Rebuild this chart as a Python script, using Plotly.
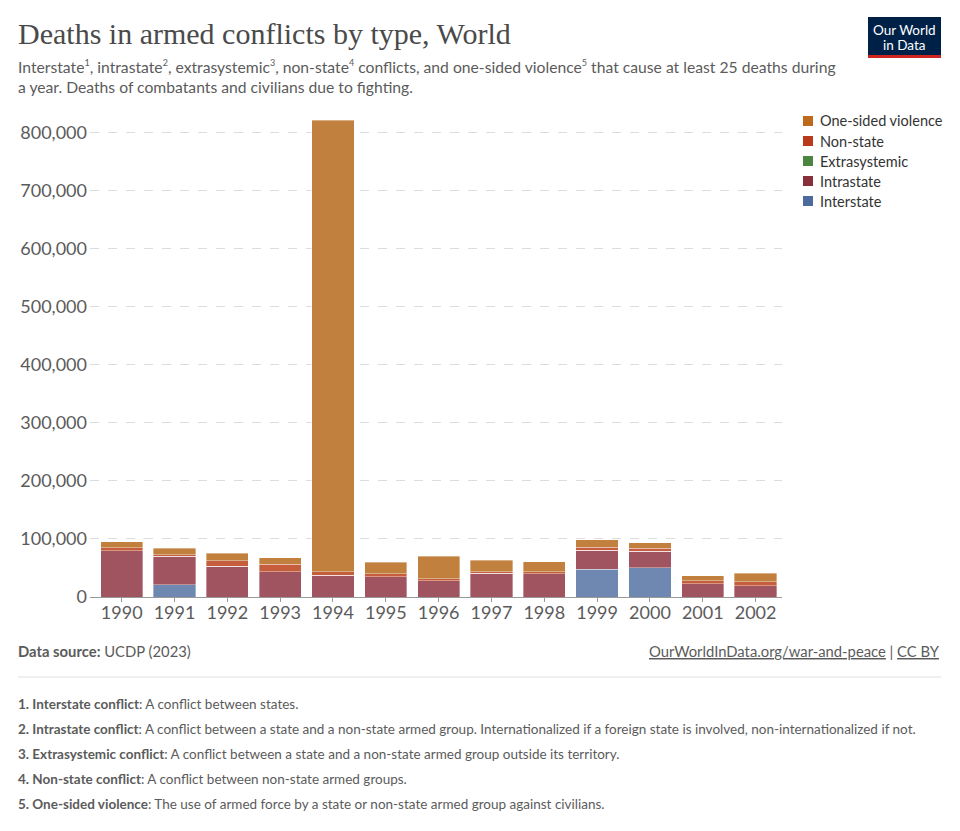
import plotly.graph_objects as go

years = ["1990", "1991", "1992", "1993", "1994", "1995", "1996",
         "1997", "1998", "1999", "2000", "2001", "2002"]
interstate = [0, 20800, 0, 0, 0, 0, 0, 0, 0, 48000, 50300, 0, 0]
intrastate = [79800, 49200, 52600, 43900, 37600, 35300, 27700,
              41000, 39900, 32300, 28300, 22500, 19700]
extrasystemic = [0, 0, 0, 0, 0, 0, 0, 0, 0, 0, 0, 0, 0]
non_state = [5200, 2800, 9800, 12200, 5800, 4600, 4100,
             2900, 4000, 5200, 5200, 5200, 6900]
one_sided = [9800, 11000, 13300, 11500, 777300, 20200, 38700,
             19700, 16800, 13300, 9200, 8700, 13900]

series_names = ["Interstate", "Intrastate", "Extrasystemic", "Non-state", "One-sided violence"]
series_values = [interstate, intrastate, extrasystemic, non_state, one_sided]
bar_colors = ["#6E88B1", "#A0545F", "#6E9A63", "#C65D3C", "#C2803F"]
legend_colors = ["#4C6A9C", "#883039", "#4C8540", "#B83A1A", "#BE6A1C"]

y_ticks = [0, 100000, 200000, 300000, 400000, 500000, 600000, 700000, 800000]

W, H = 960, 831
L, R, T, B = 90, 178, 115, 234
plot_w = W - L - R
plot_h = H - T - B


def px(x):
    return (x - L) / plot_w


def py(y):
    return (H - B - y) / plot_h


fig = go.Figure()
for name, vals, col in zip(series_names, series_values, bar_colors):
    fig.add_trace(go.Bar(
        x=years, y=vals, name=name, marker_color=col,
        marker_line_color="rgba(255,255,255,0.6)", marker_line_width=0.6,
        showlegend=False,
    ))

fig.update_layout(
    width=W, height=H,
    margin=dict(l=L, r=R, t=T, b=B, autoexpand=False),
    paper_bgcolor="white", plot_bgcolor="white",
    barmode="stack", bargap=0.2, showlegend=False,
    font=dict(family="Lato", color="#5b5b5b"),
)
fig.update_xaxes(
    type="category", range=[-0.6, 12.5],
    showline=True, linecolor="#999999", linewidth=1,
    ticks="outside", ticklen=4, tickcolor="#999999",
    tickfont=dict(size=18, color="#5b5b5b"), showgrid=False,
    ticklabelstandoff=-5,
)
fig.update_yaxes(
    range=[0, 830000], tickvals=y_ticks,
    ticktext=[f"{v:,}" for v in y_ticks],
    tickfont=dict(size=18, color="#5b5b5b"),
    showgrid=True, gridcolor="#dddddd", griddash="dash", gridwidth=1,
    zeroline=False, ticks="", ticklabelstandoff=2,
)

ann = []


def add_text(x, y, text, size, color="#5b5b5b", family="Lato", anchor="left"):
    ann.append(dict(x=px(x), y=py(y), xref="paper", yref="paper", text=text,
                    font=dict(family=family, size=size, color=color),
                    xanchor=anchor, yanchor="middle", showarrow=False))


def sup(n):
    return f"<sup><span style='font-size:9px'>{n}</span></sup>"


add_text(16, 34, "Deaths in armed conflicts by type, World", 30, "#4a4a4a", "Liberation Serif")
add_text(16, 67, f"Interstate{sup(1)}, intrastate{sup(2)}, extrasystemic{sup(3)}, non-state{sup(4)} conflicts, and one-sided violence{sup(5)} that cause at least 25 deaths during", 15.7)
add_text(16, 87, "a year. Deaths of combatants and civilians due to fighting.", 15.7)
add_text(16, 651, "<b>Data source:</b> UCDP (2023)", 14.8)
add_text(942, 651, "<u>OurWorldInData.org/war-and-peace</u> | <u>CC BY</u>", 14.8, anchor="right")
notes = [
    ("1. Interstate conflict", ": A conflict between states."),
    ("2. Intrastate conflict", ": A conflict between a state and a non-state armed group. Internationalized if a foreign state is involved, non-internationalized if not."),
    ("3. Extrasystemic conflict", ": A conflict between a state and a non-state armed group outside its territory."),
    ("4. Non-state conflict", ": A conflict between non-state armed groups."),
    ("5. One-sided violence", ": The use of armed force by a state or non-state armed group against civilians."),
]
for i, (b, rest) in enumerate(notes):
    add_text(16, 704 + i * 25, f"<b>{b}</b>{rest}", 13.5)
add_text(904.5, 30, "Our World", 13.5, "white", anchor="center")
add_text(904.5, 45, "in Data", 13.5, "white", anchor="center")

shapes = [
    dict(type="rect", xref="paper", yref="paper", x0=px(868), x1=px(941), y0=py(55), y1=py(17),
         fillcolor="#002147", line_width=0, layer="below"),
    dict(type="rect", xref="paper", yref="paper", x0=px(868), x1=px(941), y0=py(58), y1=py(55),
         fillcolor="#CE261E", line_width=0),
    dict(type="line", xref="paper", yref="paper", x0=px(18), x1=px(941), y0=py(677), y1=py(677),
         line=dict(color="#e0e0e0", width=1)),
]

# manual legend (top to bottom: reverse of stacking order)
for i, (name, col) in enumerate(reversed(list(zip(series_names, legend_colors)))):
    yc = 121 + i * 20
    shapes.append(dict(type="rect", xref="paper", yref="paper",
                       x0=px(803), x1=px(813), y0=py(yc + 5), y1=py(yc - 5),
                       fillcolor=col, line_width=0))
    add_text(818, yc, name, 14.5, "#333333")

fig.update_layout(annotations=ann, shapes=shapes)

fig.write_html("out.html")
